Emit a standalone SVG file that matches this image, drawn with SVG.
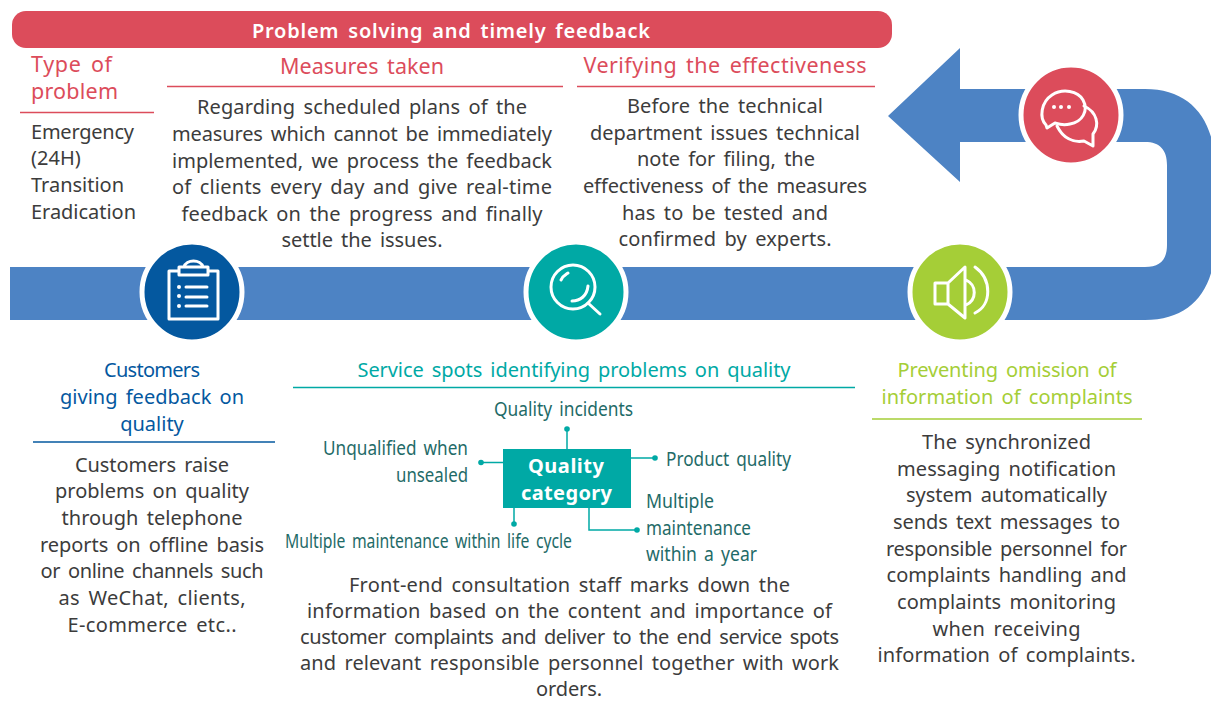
<svg xmlns="http://www.w3.org/2000/svg" width="1211" height="702" viewBox="0 0 1211 702">
<style>
text{font-family:"Noto Sans","Open Sans","DejaVu Sans",sans-serif;font-size:20px;word-spacing:3px;fill:#3c3c3c}
.m{text-anchor:middle}.e{text-anchor:end}
.h{fill:#dc4c5b;font-size:21.500px}.q{fill:#1f6b68;font-size:20px}
.hr{stroke-width:1.5;fill:none}
.ic{fill:none;stroke:#fff;stroke-width:3;stroke-linecap:round;stroke-linejoin:round}
.ring{stroke:#fff;stroke-width:5}
.c{stroke:#00a9a5;stroke-width:1.5;fill:none}.d{fill:#00a9a5}
</style>
<g id="band"><path d="M10 267H1145C1160 267 1167 260 1167 245V165C1167 150 1160 142 1145 142H960V182L888 116L960 48V89H1145C1185 89 1208 112 1214 150V260C1208 298 1185 320 1145 320H10Z" fill="#4d83c4"/></g>
<g id="banner"><rect x="12" y="11" width="880" height="37" rx="14" fill="#dc4c5b"/><text class="m" x="451" y="38" textLength="398" style="fill:#fff;font-weight:600">Problem solving and timely feedback</text></g>
<g id="connectors">
<path class="hr" stroke="#dc4c5b" d="M20 112.500H154M167 86.500H563M577 86.500H875"/>
<path class="hr" stroke="#04589f" d="M33 442H275"/>
<path class="hr" stroke="#00a9a5" d="M293 387.500H855"/>
<path class="hr" stroke="#a5ce37" d="M872 419H1142"/>
<path class="c" d="M567 449V429M503 462.500H481M631 458H655M514 508V524M589 508V530H637"/>
<circle class="d" cx="567" cy="429" r="2.800"/><circle class="d" cx="481" cy="462.500" r="2.800"/><circle class="d" cx="655" cy="458" r="2.800"/><circle class="d" cx="514" cy="524" r="2.800"/><circle class="d" cx="637" cy="530" r="2.800"/>
</g>
<g id="type-of-problem">
<text class="h" x="31" y="72" textLength="81">Type of</text><text class="h" x="31" y="99" textLength="87">problem</text>
<text x="31" y="139" textLength="103">Emergency</text><text x="31" y="165">(24H)</text><text x="31" y="192" textLength="93">Transition</text><text x="31" y="219" textLength="105">Eradication</text>
</g>
<g id="measures">
<text class="m h" x="362" y="74" textLength="164">Measures taken</text>
<text class="m" x="362" y="114" textLength="330">Regarding scheduled plans of the</text>
<text class="m" x="362" y="141" textLength="380">measures which cannot be immediately</text>
<text class="m" x="362" y="168" textLength="380">implemented, we process the feedback</text>
<text class="m" x="362" y="194" textLength="380">of clients every day and give real-time</text>
<text class="m" x="362" y="221" textLength="361">feedback on the progress and finally</text>
<text class="m" x="362" y="247" textLength="161">settle the issues.</text>
</g>
<g id="verifying">
<text class="m h" x="725" y="73" textLength="283">Verifying the effectiveness</text>
<text class="m" x="725" y="113" textLength="196">Before the technical</text>
<text class="m" x="725" y="140" textLength="270">department issues technical</text>
<text class="m" x="726" y="166" textLength="178">note for filing, the</text>
<text class="m" x="725" y="193" textLength="284">effectiveness of the measures</text>
<text class="m" x="725" y="220" textLength="206">has to be tested and</text>
<text class="m" x="725" y="246" textLength="213">confirmed by experts.</text>
</g>
<g id="chat-node"><circle class="ring" cx="1071" cy="115" r="50" fill="#dc4c5b"/>
<path class="ic" d="M1046 125C1039 118 1041 102 1052 95C1063 88 1078 91 1083 100C1089 111 1082 122 1070 124C1063 126 1058 124 1055 123L1047 128Z"/>
<path class="ic" d="M1084 106C1097 112 1100 125 1093 134L1093 146L1084 141C1073 143 1063 138 1057 126"/>
<circle cx="1054" cy="107" r="2" fill="#fff"/><circle cx="1061" cy="107" r="2" fill="#fff"/><circle cx="1069" cy="107" r="2" fill="#fff"/></g>
<g id="clipboard-node"><circle class="ring" cx="192" cy="292" r="50" fill="#04589f"/>
<path class="ic" d="M179 271H169V319H218V271H208M179 267H208V275H179ZM184 267C186 259 201 259 203 267M186 287H207M186 297H207M186 306H207"/>
<circle cx="179" cy="287" r="2" fill="#fff"/><circle cx="179" cy="296" r="2" fill="#fff"/><circle cx="179" cy="306" r="2" fill="#fff"/></g>
<g id="search-node"><circle class="ring" cx="576" cy="292" r="50" fill="#00a9a5"/>
<circle class="ic" cx="573" cy="287" r="22"/><path class="ic" d="M588 303L600 314M561 280C563 276 565 275 568 273M572 301C580 301 587 296 588 286"/></g>
<g id="speaker-node"><circle class="ring" cx="960" cy="292" r="50" fill="#a5ce37"/>
<path class="ic" d="M935 283V304H948L965 318V267L948 283ZM948 283V304M966 280C977 285 977 300 966 305M975 267C992 279 992 305 975 313"/></g>
<g id="customers">
<text class="m" x="152" y="377" textLength="96" style="fill:#04589f">Customers</text>
<text class="m" x="152" y="404" textLength="184" style="fill:#04589f">giving feedback on</text>
<text class="m" x="152" y="431" style="fill:#04589f">quality</text>
<text class="m" x="152" y="472" textLength="154">Customers raise</text>
<text class="m" x="152" y="498" textLength="194">problems on quality</text>
<text class="m" x="152" y="525" textLength="181">through telephone</text>
<text class="m" x="152" y="552" textLength="224">reports on offline basis</text>
<text class="m" x="152" y="578" textLength="223">or online channels such</text>
<text class="m" x="152" y="605" textLength="187">as WeChat, clients,</text>
<text class="m" x="152" y="632" textLength="169">E-commerce etc..</text>
</g>
<g id="service-spots">
<text class="m" x="574" y="377" textLength="433" style="fill:#00a9a5">Service spots identifying problems on quality</text>
<text class="m" x="569.500" y="592" textLength="441">Front-end consultation staff marks down the</text>
<text class="m" x="569.500" y="618" textLength="525">information based on the content and importance of</text>
<text class="m" x="569.500" y="644" textLength="539">customer complaints and deliver to the end service spots</text>
<text class="m" x="569.500" y="670" textLength="539">and relevant responsible personnel together with work</text>
<text class="m" x="569" y="696" textLength="66">orders.</text>
</g>
<g id="quality-category"><rect x="503" y="449" width="128" height="59" fill="#00a9a5"/>
<text class="m" x="566" y="473" textLength="76" style="fill:#fff;font-weight:700">Quality</text><text class="m" x="566.500" y="500" textLength="91" style="fill:#fff;font-weight:700">category</text></g>
<g id="cat-labels">
<text class="q" x="494" y="416" textLength="139" lengthAdjust="spacingAndGlyphs">Quality incidents</text>
<text class="q" x="323" y="455" textLength="145" lengthAdjust="spacingAndGlyphs">Unqualified when</text><text class="q" x="396" y="482" textLength="72" lengthAdjust="spacingAndGlyphs">unsealed</text>
<text class="q" x="666" y="466" textLength="125" lengthAdjust="spacingAndGlyphs">Product quality</text>
<text class="q" x="285" y="548" textLength="287" lengthAdjust="spacingAndGlyphs">Multiple maintenance within life cycle</text>
<text class="q" x="646" y="508" textLength="68" lengthAdjust="spacingAndGlyphs">Multiple</text><text class="q" x="646" y="535" textLength="105" lengthAdjust="spacingAndGlyphs">maintenance</text><text class="q" x="646" y="561" textLength="111" lengthAdjust="spacingAndGlyphs">within a year</text>
</g>
<g id="preventing">
<text class="m" x="1007" y="377" textLength="219" style="fill:#a5ce37">Preventing omission of</text>
<text class="m" x="1007" y="404" textLength="251" style="fill:#a5ce37">information of complaints</text>
<text class="m" x="1006.500" y="449" textLength="169">The synchronized</text>
<text class="m" x="1006.500" y="476" textLength="219">messaging notification</text>
<text class="m" x="1006.500" y="502" textLength="201">system automatically</text>
<text class="m" x="1006.500" y="529" textLength="227">sends text messages to</text>
<text class="m" x="1006.500" y="556" textLength="241">responsible personnel for</text>
<text class="m" x="1006.500" y="582" textLength="240">complaints handling and</text>
<text class="m" x="1006.500" y="609" textLength="219">complaints monitoring</text>
<text class="m" x="1006.500" y="636" textLength="148">when receiving</text>
<text class="m" x="1006.500" y="662" textLength="258">information of complaints.</text>
</g>
</svg>
